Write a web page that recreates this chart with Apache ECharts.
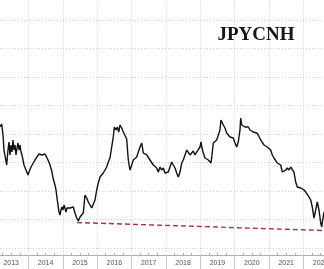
<!DOCTYPE html>
<html><head><meta charset="utf-8">
<script src="https://cdn.jsdelivr.net/npm/echarts@6/dist/echarts.min.js"></script>
<style>html,body{margin:0;padding:0;background:#fff}#c{width:324px;height:269px}</style>
</head><body><div id="c"></div>
<script>
// decimal years
var dates = [2013.175,2013.224,2013.262,2013.291,2013.320,2013.369,2013.407,2013.436,2013.465,2013.495,2013.524,2013.553,2013.582,2013.611,2013.640,2013.669,2013.698,2013.727,2013.756,2013.785,2013.815,2013.844,2013.873,2013.931,2013.989,2014.018,2014.047,2014.076,2014.134,2014.193,2014.251,2014.309,2014.338,2014.396,2014.425,2014.484,2014.542,2014.571,2014.629,2014.687,2014.716,2014.745,2014.774,2014.804,2014.833,2014.862,2014.891,2014.920,2014.949,2014.978,2015.007,2015.036,2015.065,2015.094,2015.124,2015.153,2015.211,2015.307,2015.356,2015.406,2015.452,2015.502,2015.551,2015.598,2015.647,2015.697,2015.743,2015.793,2015.842,2015.889,2015.938,2015.988,2016.034,2016.084,2016.133,2016.179,2016.229,2016.278,2016.325,2016.374,2016.424,2016.470,2016.499,2016.549,2016.587,2016.628,2016.665,2016.715,2016.761,2016.811,2016.860,2016.907,2016.956,2017.006,2017.052,2017.102,2017.151,2017.198,2017.247,2017.297,2017.343,2017.393,2017.442,2017.489,2017.538,2017.588,2017.634,2017.683,2017.733,2017.779,2017.829,2017.878,2017.925,2017.974,2018.024,2018.070,2018.120,2018.169,2018.216,2018.265,2018.315,2018.361,2018.411,2018.460,2018.507,2018.556,2018.606,2018.652,2018.702,2018.751,2018.798,2018.847,2018.897,2018.943,2018.993,2019.022,2019.051,2019.089,2019.138,2019.188,2019.234,2019.283,2019.313,2019.342,2019.379,2019.429,2019.478,2019.525,2019.574,2019.603,2019.641,2019.670,2019.720,2019.769,2019.816,2019.865,2019.915,2019.961,2020.011,2020.060,2020.107,2020.156,2020.177,2020.206,2020.252,2020.302,2020.351,2020.397,2020.447,2020.496,2020.543,2020.592,2020.642,2020.688,2020.758,2020.805,2020.854,2020.904,2020.950,2021.000,2021.049,2021.096,2021.145,2021.194,2021.241,2021.290,2021.340,2021.387,2021.436,2021.486,2021.532,2021.582,2021.631,2021.678,2021.727,2021.776,2021.823,2021.872,2021.922,2021.968,2022.018,2022.067,2022.114,2022.163,2022.213,2022.259,2022.309,2022.358,2022.405,2022.454,2022.504,2022.533,2022.562,2022.600];
// JPYCNH x 1000
var jpycnh = [66.23,66.75,64.82,62.19,62.54,59.56,62.19,63.60,61.32,63.07,61.84,63.95,62.19,63.07,61.32,62.54,63.42,62.19,63.07,61.84,61.32,60.44,59.56,58.68,57.81,58.33,58.68,59.21,59.56,60.44,60.97,61.49,61.67,61.32,61.67,61.49,61.32,60.44,59.56,58.33,57.28,57.46,56.05,55.18,53.77,52.54,51.32,50.79,51.67,52.19,51.67,52.54,52.02,51.32,52.02,51.67,52.02,52.19,51.14,50.26,49.74,50.44,50.26,51.14,54.30,53.77,53.07,52.54,52.02,52.19,53.42,55.18,56.40,57.46,57.28,58.16,58.33,59.21,60.09,60.79,62.72,64.47,66.23,65.70,66.23,65.35,66.58,66.05,65.35,65.70,64.12,60.44,58.68,59.56,60.44,60.09,60.97,61.32,62.72,63.42,61.67,61.84,61.32,61.67,60.44,60.79,59.56,59.21,59.04,58.33,59.21,58.68,59.04,58.16,57.81,58.33,59.21,60.09,59.56,59.04,58.16,57.46,58.33,59.91,60.44,61.32,62.19,62.54,61.32,61.49,62.02,61.32,61.84,61.67,62.72,63.60,62.54,61.67,60.79,60.97,60.44,60.09,59.91,61.32,63.42,63.60,63.95,63.60,65.70,67.46,67.81,66.58,66.05,65.18,65.35,64.47,64.82,64.30,63.42,62.72,63.60,65.70,67.81,66.58,66.93,66.23,66.58,66.23,65.70,66.05,65.35,65.70,65.18,64.82,63.95,63.60,63.07,63.42,62.72,63.07,62.19,61.32,60.79,60.44,59.91,60.09,59.56,58.33,58.16,58.68,59.04,58.68,59.21,59.04,58.33,56.58,55.70,56.05,55.53,55.70,55.18,54.82,54.65,53.95,53.42,52.19,50.26,51.67,53.07,51.67,49.39,48.68,49.91,51.32];
var trendDates = [2015.414, 2022.600];
var trendValues = [49.47, 48.07];
var title = 'JPYCNH';

var chart = echarts.init(document.getElementById('c'), null, {renderer: 'canvas'});
var gridStyle = {color: '#cfcfcf', width: 1, type: [1, 2]};
chart.setOption({
  animation: false,
  backgroundColor: '#ffffff',
  grid: {left: -6, right: 0, top: -8.5, bottom: 21, containLabel: false, outerBoundsMode: 'none'},
  xAxis: [
    {type: 'value', min: 2013, max: 2022.6, interval: 1, offset: 7,
     axisLine: {show: true, lineStyle: {color: '#b0b0b0', width: 1}},
     axisTick: {show: true, length: 14, inside: false, lineStyle: {color: '#c8c8c8'}},
     axisLabel: {show: true, margin: 5, fontSize: 7, color: '#555', fontFamily: 'Liberation Sans',
       padding: [0, 0, 0, 34.4], showMaxLabel: false, hideOverlap: false, formatter: function (v) { return String(v); }},
     splitLine: {show: true, lineStyle: gridStyle}},
    {type: 'value', min: 2013, max: 2022.6, interval: 1, offset: 0, position: 'bottom',
     axisLine: {show: false}, axisLabel: {show: false}, splitLine: {show: false},
     axisTick: {show: true, length: 7, inside: false, lineStyle: gridStyle}},
    {type: 'value', min: 2013, max: 2022.6, interval: 1, offset: 7, position: 'bottom',
     axisLine: {show: false}, axisLabel: {show: false}, splitLine: {show: false},
     axisTick: {show: false, inside: true},
     minorTick: {show: true, splitNumber: 4, length: 2, lineStyle: {color: '#aaa'}}}
  ],
  yAxis: {type: 'value', min: 45, max: 90, interval: 5,
    axisLine: {show: false}, axisTick: {show: false}, axisLabel: {show: false},
    splitLine: {show: true, lineStyle: gridStyle}},
  series: [
    {type: 'line', xAxisIndex: 0, showSymbol: false, symbol: 'none',
     data: dates.map(function (d, i) { return [d, jpycnh[i]]; }),
     lineStyle: {color: '#111', width: 1.4}, z: 3},
    {type: 'line', xAxisIndex: 0, showSymbol: false, symbol: 'none',
     data: trendDates.map(function (d, i) { return [d, trendValues[i]]; }),
     lineStyle: {color: '#a8304a', width: 1.4, type: [5, 3]}, z: 2}
  ],
  graphic: [{type: 'text', x: 256, y: 35, z: 10,
    style: {text: title, font: 'bold 19px "Liberation Serif"', fill: '#151515',
      textAlign: 'center', textVerticalAlign: 'middle',
      shadowColor: 'rgba(0,0,0,0.45)', shadowBlur: 3, shadowOffsetX: 2, shadowOffsetY: 2}}]
});
</script></body></html>
